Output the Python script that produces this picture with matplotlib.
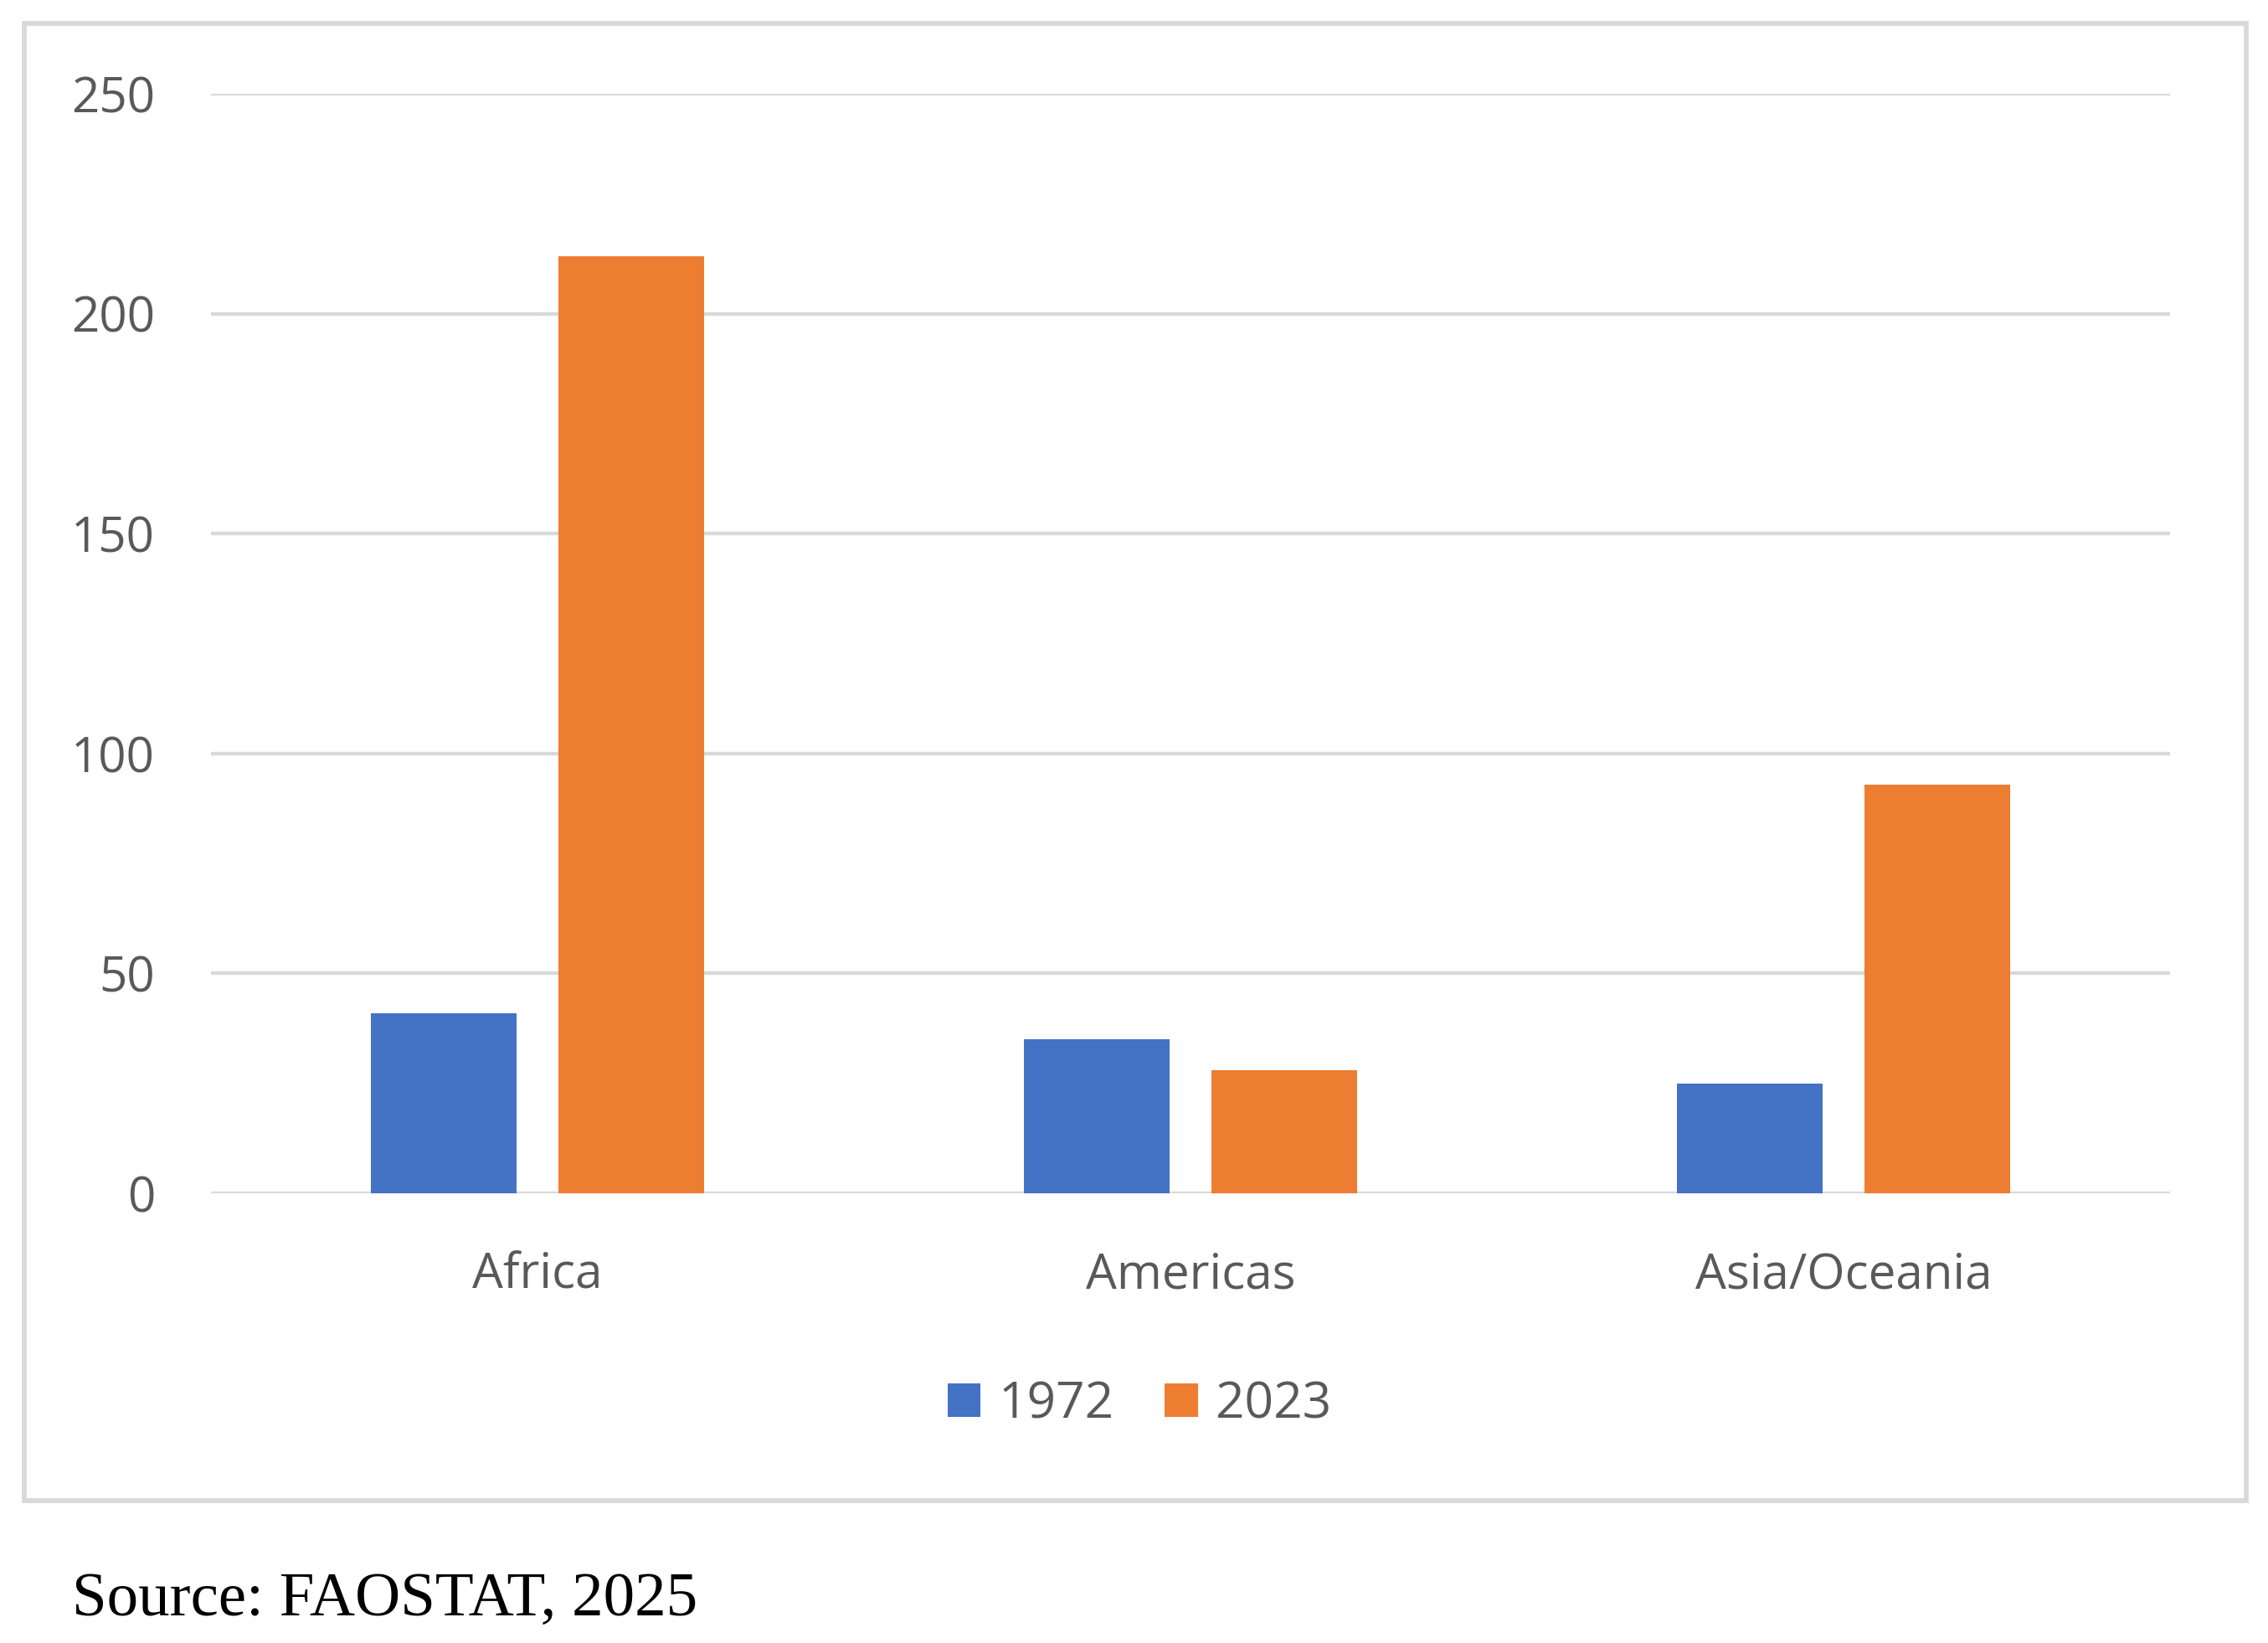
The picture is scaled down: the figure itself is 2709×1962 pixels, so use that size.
import matplotlib.pyplot as plt
import matplotlib.patches as mpatches
import numpy as np

regions = ['Africa', 'Americas', 'Asia/Oceania']
years = ['1972', '2023']
values_1972 = [41, 35, 25]
values_2023 = [213, 28, 93]
y_ticks = [0, 50, 100, 150, 200, 250]

blue = '#4472C4'
orange = '#ED7D31'
grey_text = '#595959'
grid_col = '#D9D9D9'

plt.rcParams['font.family'] = ['Open Sans', 'DejaVu Sans']

fig = plt.figure(figsize=(9.03, 6.54), dpi=300)

# chart frame like the Excel chart area
frame = mpatches.Rectangle((0.0107, 0.0866), 0.9797, 0.899, transform=fig.transFigure,
                           fill=False, edgecolor=grid_col, linewidth=1.4)
fig.patches.append(frame)

ax = fig.add_axes([0.093, 0.2737, 0.8638, 0.6692])
x = np.arange(len(regions))
width = 0.224
offset = 0.1435
b1 = ax.bar(x - offset, values_1972, width, color=blue, label=years[0], zorder=3)
b2 = ax.bar(x + offset, values_2023, width, color=orange, label=years[1], zorder=3)

ax.set_xlim(-0.5, 2.5)
ax.set_ylim(0, 250)
ax.set_yticks(y_ticks)
ax.set_xticks(x)
ax.set_xticklabels(regions)
ax.yaxis.grid(True, color=grid_col, linewidth=1.05, zorder=0)
ax.set_axisbelow(True)
for s in ax.spines.values():
    s.set_visible(False)
ax.tick_params(axis='both', length=0, labelsize=14, labelcolor=grey_text)
ax.tick_params(axis='y', pad=16)
ax.tick_params(axis='x', pad=16.5)
for lbl in ax.get_yticklabels():
    lbl.set_clip_on(False)

fig.legend(handles=[b1, b2], labels=years, loc='center', bbox_to_anchor=(0.5025, 0.145),
           ncol=2, frameon=False, fontsize=14.5, labelcolor=grey_text,
           handlelength=0.65, handleheight=0.65, handletextpad=0.36, columnspacing=1.0)

fig.text(0.0318, 0.017, 'Source: FAOSTAT, 2025', family=['Liberation Serif', 'DejaVu Serif'],
         fontsize=18, color='black', ha='left', va='baseline')

fig.savefig('out.png', dpi=300, facecolor='white')
